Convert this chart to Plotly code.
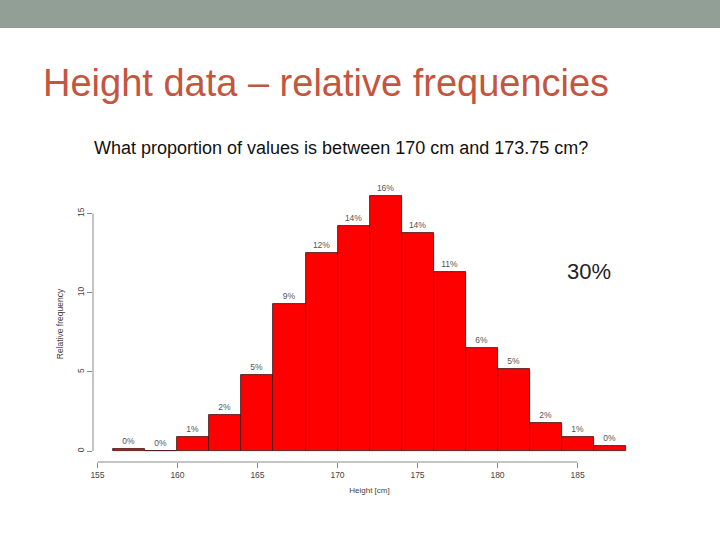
import plotly.graph_objects as go

# histogram of heights, bins of 2 cm
bin_left = [156, 158, 160, 162, 164, 166, 168, 170, 172, 174, 176, 178, 180, 182, 184, 186]
rel_freq = [0.1, 0.0, 0.88, 2.3, 4.8, 9.3, 12.5, 14.2, 16.1, 13.8, 11.3, 6.5, 5.2, 1.8, 0.88, 0.3]
bar_labels = [f"{round(v)}%" for v in rel_freq]

x_ticks = [155, 160, 165, 170, 175, 180, 185]
y_ticks = [0, 5, 10, 15]

W, H = 720, 540
L, R, T, B = 93, 74, 186, 78
pw, ph = W - L - R, H - T - B

def px_x(p):  # pixel -> paper x
    return (p - L) / pw

def px_y(p):  # pixel -> paper y
    return (H - B - p) / ph

fig = go.Figure()
fig.add_trace(go.Bar(
    x=bin_left, y=rel_freq, width=2, offset=0,
    marker=dict(color="#ff0000", line=dict(color="#3a1010", width=0.8)),
    text=bar_labels, textposition="outside", cliponaxis=False,
    textfont=dict(family="Liberation Sans", size=8.5, color="#555555"),
))

fig.update_layout(
    width=W, height=H,
    margin=dict(l=L, r=R, t=T, b=B),
    paper_bgcolor="white", plot_bgcolor="white",
    showlegend=False, bargap=0,
    font=dict(family="Liberation Sans", color="#444444"),
    title=dict(text="Height data – relative frequencies", x=43 / W, xanchor="left",
               y=1 - 83 / H, yanchor="middle", yref="container",
               font=dict(family="Liberation Sans", size=38, color="#c4553f")),
    xaxis=dict(range=[154.72, 189.28], tickvals=x_ticks, ticks="outside", ticklen=5,
               tickcolor="#888888", showgrid=False, zeroline=False, showline=False,
               tickfont=dict(size=8.5, color="#444444"),
               title=dict(text="Height [cm]", font=dict(size=8, color="#444444"), standoff=8)),
    yaxis=dict(range=[-0.69, 16.74], tickvals=y_ticks, ticks="outside", ticklen=5,
               tickcolor="#888888", showgrid=False, zeroline=False, showline=False,
               tickangle=-90, tickfont=dict(size=8.5, color="#444444"),
               title=dict(text="Relative frequency", font=dict(size=8.5, color="#444444"), standoff=10)),
)

# R-style axis lines spanning only the tick range
fig.add_shape(type="line", xref="x", yref="paper", x0=x_ticks[0], x1=x_ticks[-1], y0=0, y1=0,
              line=dict(color="#888888", width=1))
fig.add_shape(type="line", xref="paper", yref="y", x0=0, x1=0, y0=y_ticks[0], y1=y_ticks[-1],
              line=dict(color="#888888", width=1))

# slide header band
fig.add_shape(type="rect", xref="paper", yref="paper", x0=px_x(-5), x1=px_x(W + 5),
              y0=px_y(28), y1=px_y(-5), fillcolor="#929f96", line=dict(width=0), layer="below")

fig.add_annotation(text="What proportion of values is between 170 cm and 173.75 cm?",
                   xref="paper", yref="paper", x=px_x(92), y=px_y(148), xanchor="left",
                   yanchor="middle", showarrow=False,
                   font=dict(family="Liberation Sans", size=18, color="#111111"))
fig.add_annotation(text="30%", xref="paper", yref="paper", x=px_x(589), y=px_y(271),
                   xanchor="center", yanchor="middle", showarrow=False,
                   font=dict(family="Liberation Sans", size=22, color="#222222"))

fig.write_html("out.html", config={"displayModeBar": False},
               post_script="document.body.style.margin='0';")
